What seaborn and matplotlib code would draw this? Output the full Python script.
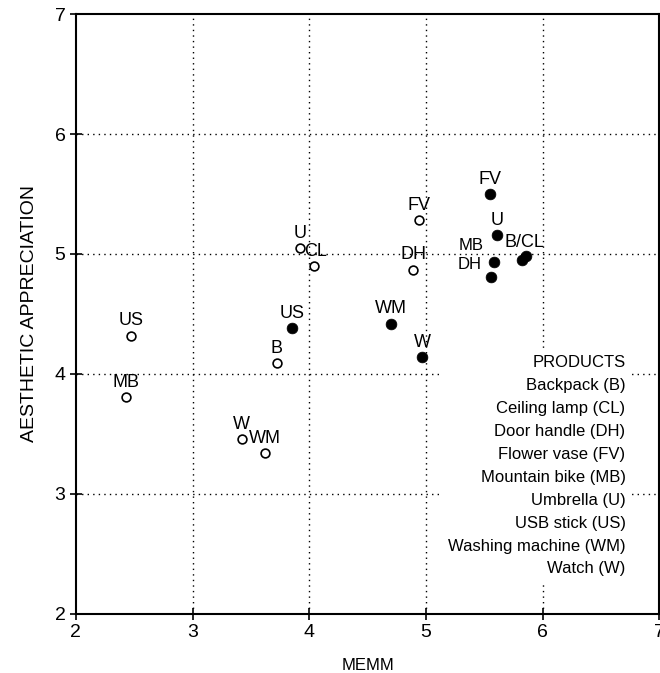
import pandas as pd
import seaborn as sns
import numpy as np
import matplotlib.pyplot as plt

sns.set_style("white")
plt.rcParams['font.family'] = ['Liberation Sans', 'DejaVu Sans']
plt.rcParams.update({'text.color': 'black', 'axes.labelcolor': 'black',
                     'xtick.color': 'black', 'ytick.color': 'black'})

# open circles
open_codes = ['US', 'MB', 'W', 'WM', 'B', 'U', 'CL', 'DH', 'FV']
open_memm = [2.47, 2.43, 3.42, 3.62, 3.72, 3.92, 4.04, 4.89, 4.94]
open_aa = [4.32, 3.81, 3.46, 3.34, 4.09, 5.05, 4.90, 4.87, 5.28]

# filled circles
filled_codes = ['US', 'WM', 'W', 'FV', 'U', 'MB', 'DH', 'B', 'CL']
filled_memm = [3.85, 4.70, 4.97, 5.55, 5.61, 5.58, 5.56, 5.82, 5.86]
filled_aa = [4.38, 4.42, 4.14, 5.50, 5.16, 4.93, 4.81, 4.95, 4.98]

products = ['Backpack (B)', 'Ceiling lamp (CL)', 'Door handle (DH)', 'Flower vase (FV)',
            'Mountain bike (MB)', 'Umbrella (U)', 'USB stick (US)',
            'Washing machine (WM)', 'Watch (W)']

df = pd.concat([
    pd.DataFrame({'code': open_codes, 'MEMM': open_memm, 'AA': open_aa, 'group': 'open'}),
    pd.DataFrame({'code': filled_codes, 'MEMM': filled_memm, 'AA': filled_aa, 'group': 'filled'}),
], ignore_index=True)

fig = plt.figure(figsize=(6.6, 6.73), dpi=100)
ax = fig.add_axes([0.115, 0.088, 0.884, 0.891])

for v in [3, 4, 5, 6]:
    ax.axvline(v, color='black', ls=(0, (1, 3)), lw=1, zorder=0)
    ax.axhline(v, color='black', ls=(0, (1, 3)), lw=1, zorder=0)

sns.scatterplot(data=df[df.group == 'open'], x='MEMM', y='AA', ax=ax, s=40,
                facecolor='white', edgecolor='black', linewidth=1.2, zorder=3)
sns.scatterplot(data=df[df.group == 'filled'], x='MEMM', y='AA', ax=ax, s=60,
                color='black', edgecolor='black', linewidth=0.5, zorder=3)

# label offsets in points (dx, dy, ha, size)
offsets = {
    ('open', 'CL'): (1.5, 10.5, 'center', 13),
    ('filled', 'MB'): (-7, 12, 'right', 12),
    ('filled', 'DH'): (-7, 9, 'right', 12),
    ('filled', 'B'): None,
    ('filled', 'CL'): None,
}
for _, r in df.iterrows():
    off = offsets.get((r.group, r.code), (0, 10.5, 'center', 13))
    if off is None:
        continue
    dx, dy, ha, fs = off
    ax.annotate(r.code, (r.MEMM, r.AA), xytext=(dx, dy), textcoords='offset points',
                ha=ha, va='center', fontsize=fs)
bx = df[(df.group == 'filled') & df.code.isin(['B', 'CL'])]
ax.annotate('B/CL', (bx.MEMM.mean(), bx.AA.mean()), xytext=(0, 11), textcoords='offset points',
            ha='center', va='center', fontsize=13)

ax.text(0.942, 0.2467, 'PRODUCTS\n' + '\n'.join(products), transform=ax.transAxes,
        ha='right', va='center', fontsize=12, linespacing=1.66, zorder=2,
        bbox=dict(facecolor='white', edgecolor='none', pad=4))

ax.set_xlim(2, 7)
ax.set_ylim(2, 7)
ax.set_xticks(range(2, 8))
ax.set_yticks(range(2, 8))
ax.tick_params(direction='inout', length=8, width=1.2, labelsize=14, left=True, bottom=True)
ax.set_xlabel('MEMM', fontsize=12, labelpad=12)
ax.set_ylabel('AESTHETIC APPRECIATION', fontsize=14, labelpad=12)
for sp in ax.spines.values():
    sp.set_color('black')
    sp.set_linewidth(1.5)

fig.savefig('out.png', dpi=100)
